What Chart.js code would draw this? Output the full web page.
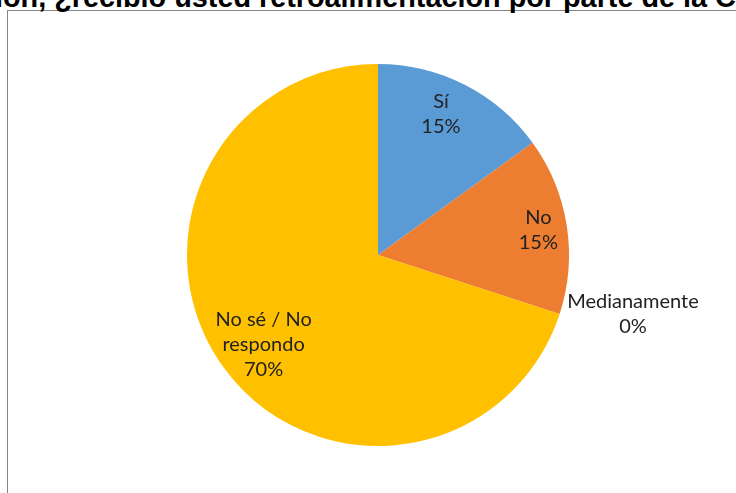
<!DOCTYPE html>
<html>
<head>
<meta charset="utf-8">
<script src="https://cdn.jsdelivr.net/npm/chart.js@4/dist/chart.umd.min.js"></script>
<style>
  html, body { margin: 0; padding: 0; background: #fff; overflow: hidden; }
  #wrap { position: relative; width: 736px; height: 493px; overflow: hidden; }
  #frame { position: absolute; left: 7px; top: 10px; width: 800px; height: 600px; border: 1px solid #868686; box-sizing: border-box; }
  #title { position: absolute; left: -5px; top: -17px; white-space: nowrap; font: bold 28.8px "Liberation Sans", Arial, sans-serif; line-height: 29px; color: #000; }
  canvas { position: absolute; left: 0; top: 0; }
</style>
</head>
<body>
<div id="wrap">
  <div id="frame"></div>
  <div id="title">ión, ¿recibió usted retroalimentación por parte de la Coordinación?</div>
  <canvas id="pieChart" width="736" height="493"></canvas>
</div>
<script>
const categories = ['Sí', 'No', 'Medianamente', 'No sé / No respondo'];
const labelLines = [['Sí'], ['No'], ['Medianamente'], ['No sé / No', 'respondo']];
const percentages = [15, 15, 0, 70];
const colors = ['#5B9BD5', '#ED7D31', '#A5A5A5', '#FFC000'];

// how far out each label sits (fraction of the radius) and a small angle nudge in degrees
const labelRadius = [0.81, 0.85, 1.37, 0.76];
const labelNudge = [-3, 0, -5, -2];

const sliceLabels = {
  id: 'sliceLabels',
  afterDatasetsDraw(chart) {
    const ctx = chart.ctx;
    const meta = chart.getDatasetMeta(0);
    ctx.save();
    ctx.font = '20px Lato, "Open Sans", sans-serif';
    ctx.fillStyle = '#222';
    ctx.textAlign = 'center';
    ctx.textBaseline = 'middle';
    const lineH = 25;
    meta.data.forEach((arc, i) => {
      const mid = (arc.startAngle + arc.endAngle) / 2 + labelNudge[i] * Math.PI / 180;
      const r = arc.outerRadius * labelRadius[i];
      const x = arc.x + Math.cos(mid) * r;
      const y = arc.y + Math.sin(mid) * r;
      const lines = labelLines[i].concat([percentages[i] + '%']);
      const top = y - (lines.length - 1) * lineH / 2;
      lines.forEach((t, k) => ctx.fillText(t, x, top + k * lineH));
    });
    ctx.restore();
  }
};

new Chart(document.getElementById('pieChart').getContext('2d'), {
  type: 'pie',
  data: {
    labels: categories,
    datasets: [{
      data: percentages,
      backgroundColor: colors,
      borderWidth: 0
    }]
  },
  options: {
    responsive: false,
    animation: false,
    layout: { padding: { top: 64, bottom: 47, left: 100, right: 80 } },
    plugins: {
      legend: { display: false },
      tooltip: { enabled: false }
    }
  },
  plugins: [sliceLabels]
});
</script>
</body>
</html>
